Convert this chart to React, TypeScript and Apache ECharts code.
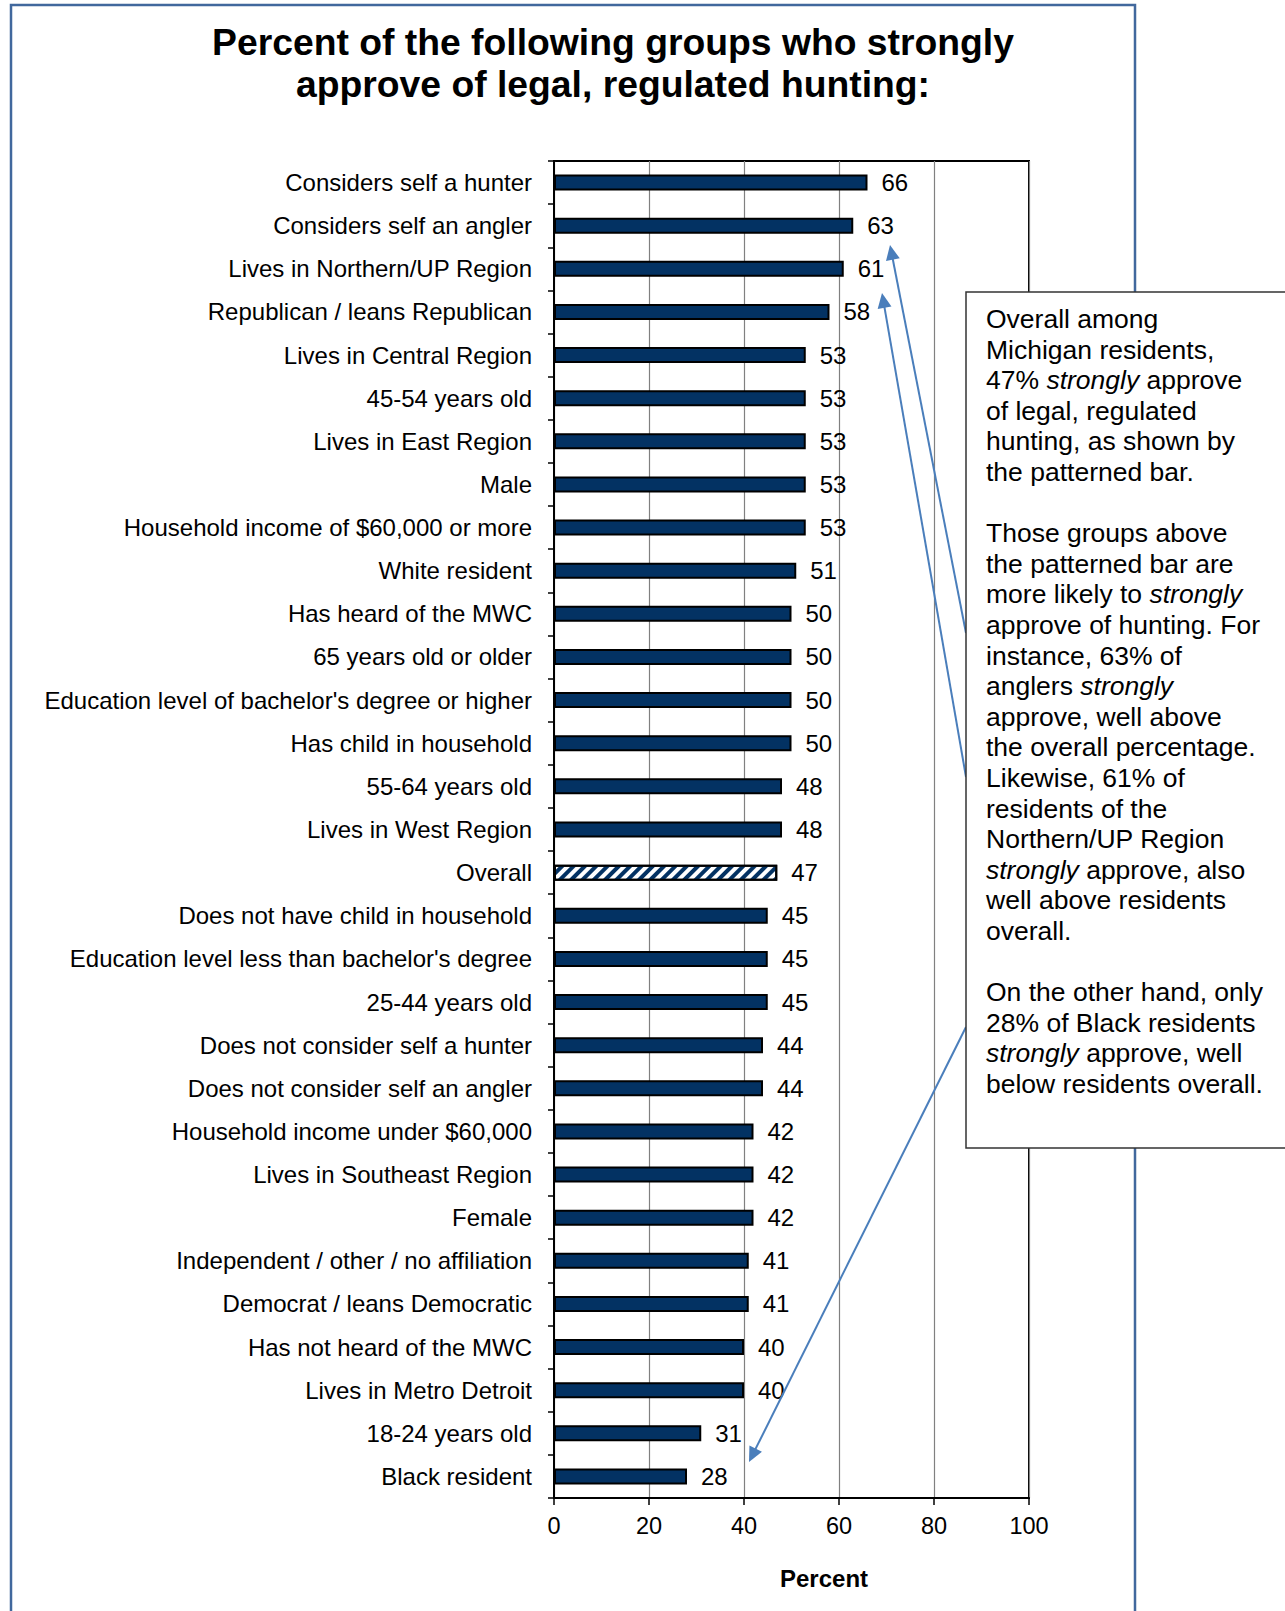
import React, { useEffect, useRef } from "react";
import * as echarts from "echarts";

const categories = [
  "Considers self a hunter",
  "Considers self an angler",
  "Lives in Northern/UP Region",
  "Republican / leans Republican",
  "Lives in Central Region",
  "45-54 years old",
  "Lives in East Region",
  "Male",
  "Household income of $60,000 or more",
  "White resident",
  "Has heard of the MWC",
  "65 years old or older",
  "Education level of bachelor's degree or higher",
  "Has child in household",
  "55-64 years old",
  "Lives in West Region",
  "Overall",
  "Does not have child in household",
  "Education level less than bachelor's degree",
  "25-44 years old",
  "Does not consider self a hunter",
  "Does not consider self an angler",
  "Household income under $60,000",
  "Lives in Southeast Region",
  "Female",
  "Independent / other / no affiliation",
  "Democrat / leans Democratic",
  "Has not heard of the MWC",
  "Lives in Metro Detroit",
  "18-24 years old",
  "Black resident",
];

const values = [
  66, 63, 61, 58, 53, 53, 53, 53, 53, 51, 50, 50, 50, 50, 48, 48, 47, 45, 45, 45,
  44, 44, 42, 42, 42, 41, 41, 40, 40, 31, 28,
];

const xTicks = [0, 20, 40, 60, 80, 100];

const titleLines = [
  "Percent of the following groups who strongly",
  "approve of legal, regulated hunting:",
];

const noteLines = [
  "Overall among",
  "Michigan residents,",
  "47% {i|strongly} approve",
  "of legal, regulated",
  "hunting, as shown by",
  "the patterned bar.",
  "",
  "Those groups above",
  "the patterned bar are",
  "more likely to {i|strongly}",
  "approve of hunting. For",
  "instance, 63% of",
  "anglers {i|strongly}",
  "approve, well above",
  "the overall percentage.",
  "Likewise, 61% of",
  "residents of the",
  "Northern/UP Region",
  "{i|strongly} approve, also",
  "well above residents",
  "overall.",
  "",
  "On the other hand, only",
  "28% of Black residents",
  "{i|strongly} approve, well",
  "below residents overall.",
];

const FONT = '"Liberation Sans", Arial, Helvetica, sans-serif';
const NAVY = "#033263";
const ARROW = "#4a7ebb";

function arrow(x1: number, y1: number, x2: number, y2: number) {
  const dx = x2 - x1;
  const dy = y2 - y1;
  const len = Math.sqrt(dx * dx + dy * dy);
  const ux = dx / len;
  const uy = dy / len;
  const nx = -uy;
  const ny = ux;
  const L = 15;
  const W = 7;
  const bx = x2 - ux * L;
  const by = y2 - uy * L;
  return [
    {
      type: "line",
      z: 120,
      silent: true,
      shape: { x1, y1, x2: bx + ux * 2, y2: by + uy * 2 },
      style: { stroke: ARROW, lineWidth: 2 },
    },
    {
      type: "polygon",
      z: 120,
      silent: true,
      shape: {
        points: [
          [x2, y2],
          [bx + nx * W, by + ny * W],
          [bx - nx * W, by - ny * W],
        ],
      },
      style: { fill: ARROW },
    },
  ];
}

export default function App() {
  const ref = useRef<HTMLDivElement>(null);

  useEffect(() => {
    document.body.style.margin = "0";
    const chart = echarts.init(ref.current!, null, { renderer: "svg" });

    const NOTE_SIZE = 26.5;
    const richI = {
      i: { fontStyle: "italic", fontSize: NOTE_SIZE, fontFamily: FONT, fill: "#000" },
    };

    const noteGraphics = noteLines
      .map((t, i) =>
        t === ""
          ? null
          : {
              type: "text",
              z: 130,
              silent: true,
              x: 986,
              y: 319 + i * 30.6,
              style: {
                text: t,
                fill: "#000",
                fontSize: NOTE_SIZE,
                fontFamily: FONT,
                textVerticalAlign: "middle",
                textAlign: "left",
                rich: richI,
              },
            }
      )
      .filter(Boolean);

    const option: any = {
      animation: false,
      backgroundColor: "#fff",
      textStyle: { fontFamily: FONT },
      grid: {
        left: 554,
        top: 161,
        width: 475,
        height: 1337,
        show: true,
        borderColor: "#000",
        borderWidth: 2,
        containLabel: false,
      },
      xAxis: {
        type: "value",
        min: 0,
        max: 100,
        interval: 20,
        axisLine: { show: true, lineStyle: { color: "#000", width: 2 } },
        axisTick: { show: true, length: 7, lineStyle: { color: "#000", width: 1.5 } },
        axisLabel: {
          color: "#000",
          fontSize: 23.5,
          fontFamily: FONT,
          margin: 16,
          formatter: (v: number) => (xTicks.includes(v) ? String(v) : ""),
        },
        splitLine: { show: true, lineStyle: { color: "#808080", width: 1.2 } },
      },
      yAxis: {
        type: "category",
        inverse: true,
        data: categories,
        axisLine: { show: true, lineStyle: { color: "#000", width: 2 } },
        axisTick: { show: true, length: 6, lineStyle: { color: "#000", width: 1.5 } },
        axisLabel: { color: "#000", fontSize: 24, fontFamily: FONT, margin: 22 },
        splitLine: { show: false },
      },
      series: [
        {
          type: "bar",
          barWidth: 16,
          data: values.map((v, i) =>
            categories[i] === "Overall"
              ? {
                  value: v,
                  itemStyle: {
                    color: "#ffffff",
                    borderColor: "#000",
                    borderWidth: 2,
                    decal: {
                      symbol: "rect",
                      symbolSize: 1,
                      color: NAVY,
                      backgroundColor: "#ffffff",
                      dashArrayX: [1, 0],
                      dashArrayY: [4, 4],
                      rotation: -Math.PI / 4,
                    },
                  },
                }
              : v
          ),
          itemStyle: { color: NAVY, borderColor: "#000", borderWidth: 2 },
          label: {
            show: true,
            position: "right",
            distance: 14,
            color: "#000",
            fontSize: 24,
            fontFamily: FONT,
          },
        },
      ],
      graphic: [
        {
          type: "rect",
          z: 100,
          silent: true,
          shape: { x: 11, y: 5, width: 1124, height: 1700 },
          style: { fill: "none", stroke: "#41689d", lineWidth: 2.5 },
        },
        ...titleLines.map((t, i) => ({
          type: "text",
          z: 110,
          silent: true,
          x: 613,
          y: 42 + i * 42,
          style: {
            text: t,
            fill: "#000",
            fontSize: 37.3,
            fontWeight: "bold",
            fontFamily: FONT,
            textAlign: "center",
            textVerticalAlign: "middle",
          },
        })),
        {
          type: "text",
          z: 110,
          silent: true,
          x: 824,
          y: 1578,
          style: {
            text: "Percent",
            fill: "#000",
            fontSize: 24,
            fontWeight: "bold",
            fontFamily: FONT,
            textAlign: "center",
            textVerticalAlign: "middle",
          },
        },
        ...arrow(966, 633, 890, 245),
        ...arrow(966, 777, 882, 293),
        ...arrow(966, 1027, 749, 1462),
        {
          type: "rect",
          z: 125,
          silent: true,
          shape: { x: 966, y: 292, width: 400, height: 856 },
          style: { fill: "#fff", stroke: "#333", lineWidth: 1.5 },
        },
        ...noteGraphics,
      ],
    };

    chart.setOption(option);
    return () => chart.dispose();
  }, []);

  return (
    <div
      ref={ref}
      style={{ position: "absolute", left: 0, top: 0, width: 1285, height: 1611 }}
    />
  );
}
